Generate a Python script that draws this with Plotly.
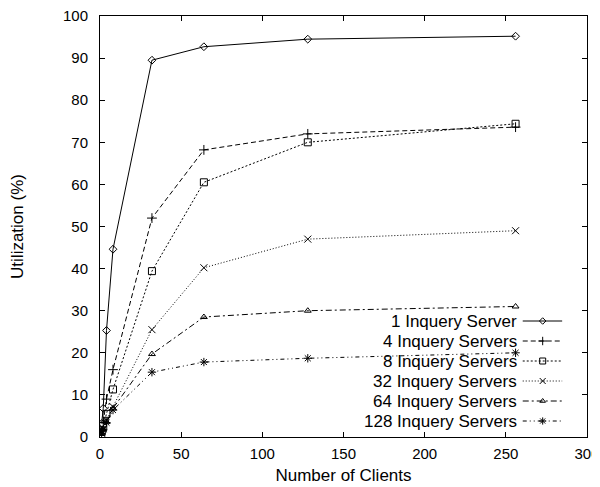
import plotly.graph_objects as go

clients = [1, 2, 4, 8, 32, 64, 128, 256]
series_names = ["1 Inquery Server", "4 Inquery Servers", "8 Inquery Servers",
                "32 Inquery Servers", "64 Inquery Servers", "128 Inquery Servers"]
util_1 = [3.2, 6.8, 25.3, 44.6, 89.5, 92.7, 94.5, 95.2]
util_4 = [1.5, 3.5, 9.0, 16.0, 52.0, 68.2, 72.0, 73.6]
util_8 = [1.2, 2.6, 5.5, 11.3, 39.4, 60.5, 70.0, 74.4]
util_32 = [1.0, 2.0, 4.0, 7.2, 25.5, 40.2, 47.0, 49.0]
util_64 = [0.9, 1.8, 3.6, 6.8, 19.7, 28.5, 30.0, 31.0]
util_128 = [0.8, 1.7, 3.4, 6.4, 15.4, 17.8, 18.7, 20.0]
x_ticks = [0, 50, 100, 150, 200, 250, 300]
y_ticks = [0, 10, 20, 30, 40, 50, 60, 70, 80, 90, 100]

series = [util_1, util_4, util_8, util_32, util_64, util_128]
dashes = ["solid", "5px,3px", "2px,2px", "1px,2px", "6px,3px,2px,3px", "4px,3px,1px,3px,1px,3px"]
symbols = ["diamond-open", "cross-thin-open", "square-open", "x-thin-open",
           "triangle-up-open", "asterisk-open"]
msizes = [6, 7, 7, 7, 6, 7]

fig = go.Figure()
for name, vals, d, s, ms in zip(series_names, series, dashes, symbols, msizes):
    fig.add_trace(go.Scatter(
        x=clients, y=vals, mode="lines+markers", name=name, showlegend=False,
        line=dict(color="black", width=1, dash=d),
        marker=dict(symbol=s, size=ms, color="black", line=dict(color="black", width=1)),
    ))

# custom gnuplot-style key (text left of sample) on a hidden overlay axis
key_x0, key_x1, key_xm, key_tx = 0.868, 0.949, 0.909, 0.860
key_rows = [0.2755, 0.228, 0.1805, 0.133, 0.0855, 0.038]
for name, d, s, ms, ky in zip(series_names, dashes, symbols, msizes, key_rows):
    fig.add_trace(go.Scatter(
        x=[key_x0, key_x1], y=[ky, ky], xaxis="x2", yaxis="y2", mode="lines",
        showlegend=False, hoverinfo="skip",
        line=dict(color="black", width=1, dash=d)))
    fig.add_trace(go.Scatter(
        x=[key_xm], y=[ky], xaxis="x2", yaxis="y2", mode="markers",
        showlegend=False, hoverinfo="skip",
        marker=dict(symbol=s, size=ms - 1, color="black", line=dict(color="black", width=1))))
    fig.add_annotation(x=key_tx, y=ky, xref="x2", yref="y2", text=name,
                       showarrow=False, xanchor="right", yanchor="middle",
                       font=dict(size=17, color="black"))

axis_common = dict(showgrid=False, zeroline=False, showline=True, linecolor="black",
                   linewidth=1, mirror="ticks", ticks="inside", ticklen=5,
                   tickcolor="black", tickfont=dict(size=15, color="black"),
                   automargin=False, ticklabeloverflow="allow")

# page body keeps its default 8px margin; size/margins compensate for it
fig.update_layout(
    width=600, height=479,
    margin=dict(l=92, r=21, t=8, b=50, autoexpand=False),
    paper_bgcolor="white", plot_bgcolor="white",
    font=dict(family="Liberation Sans, Arial, sans-serif", color="black"),
    xaxis=dict(range=[0, 300], tickvals=x_ticks, ticklabelstandoff=3,
               title=dict(text="Number of Clients", font=dict(size=17), standoff=8),
               **axis_common),
    yaxis=dict(range=[0, 100], tickvals=y_ticks, ticklabelstandoff=8,
               title=dict(text="Utilization (%)", font=dict(size=17), standoff=38),
               **axis_common),
    xaxis2=dict(overlaying="x", range=[0, 1], visible=False, fixedrange=True),
    yaxis2=dict(overlaying="y", range=[0, 1], visible=False, fixedrange=True),
)

fig.write_html("out.html")
